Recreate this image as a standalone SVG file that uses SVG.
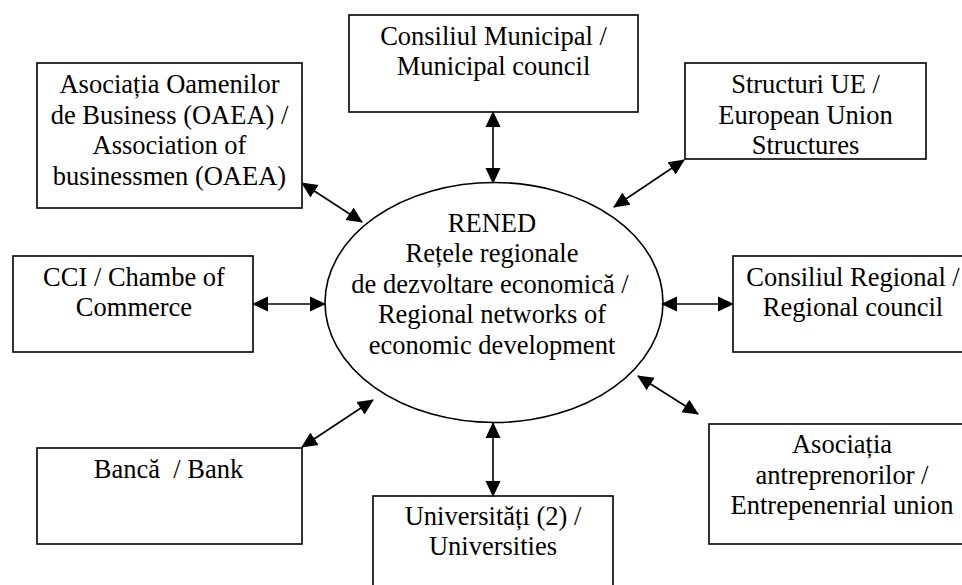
<svg xmlns="http://www.w3.org/2000/svg" width="962" height="585" viewBox="0 0 962 585">
<defs>
<marker id="ah" viewBox="0 0 16 16" markerWidth="16" markerHeight="16" refX="15" refY="8" orient="auto-start-reverse" markerUnits="userSpaceOnUse">
<path d="M0,0.5 L16,8 L0,15.5 z" fill="#000"/>
</marker>
<style>
rect, ellipse { fill: #fff; stroke: #000; stroke-width: 1.6; }
text { font-family: 'Liberation Serif', 'DejaVu Serif', serif; font-size: 26.5px; fill: #000; text-anchor: middle; }
.c line { stroke: #000; stroke-width: 1.6; marker-start: url(#ah); marker-end: url(#ah); }
</style>
</defs>
<rect x="0" y="0" width="962" height="585" style="fill:#fff;stroke:none"/>
<g id="rened">
<ellipse cx="494" cy="302.5" rx="169" ry="120"/>
<text x="492" y="231.5">RENED</text>
<text x="492" y="262">Rețele regionale</text>
<text x="490" y="292.5">de dezvoltare economică /</text>
<text x="492" y="323">Regional networks of</text>
<text x="492" y="354">economic development</text>
</g>
<g id="oaea">
<rect x="37" y="63" width="265" height="145"/>
<text x="169.5" y="93">Asociația Oamenilor</text>
<text x="169.5" y="123.5">de Business (OAEA) /</text>
<text x="169.5" y="154">Association of</text>
<text x="169.5" y="184.5">businessmen (OAEA)</text>
</g>
<g id="municipal">
<rect x="349" y="15" width="289" height="97"/>
<text x="493.5" y="44.5">Consiliul Municipal /</text>
<text x="493.5" y="75">Municipal council</text>
</g>
<g id="ue">
<rect x="685" y="63" width="241" height="96"/>
<text x="805.5" y="93">Structuri UE /</text>
<text x="805.5" y="123.5">European Union</text>
<text x="805.5" y="154">Structures</text>
</g>
<g id="cci">
<rect x="13" y="256" width="240" height="96"/>
<text x="134" y="285.5">CCI / Chambe of</text>
<text x="134" y="316">Commerce</text>
</g>
<g id="regional">
<rect x="733" y="256" width="240" height="96"/>
<text x="853" y="285.5">Consiliul Regional /</text>
<text x="853" y="316">Regional council</text>
</g>
<g id="banca">
<rect x="37" y="448" width="265" height="96"/>
<text x="168.5" y="477.5" xml:space="preserve">Bancă  / Bank</text>
</g>
<g id="univ">
<rect x="373" y="496" width="240" height="110"/>
<text x="493" y="524.5">Universități (2) /</text>
<text x="493" y="555">Universities</text>
</g>
<g id="antrep">
<rect x="709" y="424" width="270" height="120"/>
<text x="842" y="453">Asociația</text>
<text x="842" y="483.5">antreprenorilor /</text>
<text x="842" y="514">Entrepenenrial union</text>
</g>
<g id="connectors" class="c">
<line x1="493" y1="112" x2="493" y2="183"/>
<line x1="684" y1="160" x2="614" y2="207"/>
<line x1="302" y1="183" x2="362" y2="222"/>
<line x1="253" y1="304" x2="325" y2="304"/>
<line x1="662" y1="304" x2="733" y2="304"/>
<line x1="302" y1="447" x2="373" y2="400"/>
<line x1="493" y1="423" x2="493" y2="496"/>
<line x1="638" y1="376" x2="698" y2="414"/>
</g>
</svg>
